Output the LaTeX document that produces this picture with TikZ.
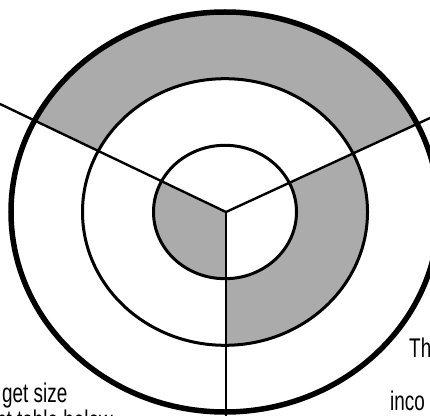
\documentclass[tikz,border=0pt]{standalone}
\usepackage{fontspec}
\setmainfont{Liberation Sans}[FakeStretch=0.7]
\definecolor{ringgray}{RGB}{171,171,171}
\tikzset{
  ring/.style={draw=black, line width=3pt},
  outerring/.style={draw=black, line width=5.5pt},
  spoke/.style={draw=black, line width=2.4pt},
  lbl/.style={inner sep=0pt, anchor=base west, font=\fontsize{27}{31}\selectfont}
}
\begin{document}
\begin{tikzpicture}[x=1pt,y=1pt]
\clip (0,0) rectangle (430,415);
\fill[white] (0,0) rectangle (430,415);
% centre and spoke ends
\coordinate (c) at (226,203);
\coordinate (l) at (-226,419);
\coordinate (r) at (634,391);
\coordinate (b) at (226,-200);
% outer ring, top sector
\begin{scope}
  \clip (c) -- (l) -- (-226,700) -- (634,700) -- (r) -- cycle;
  \fill[ringgray, even odd rule] (225,203) ellipse [x radius=214, y radius=200]
        (225,203) ellipse [x radius=142.5, y radius=133.3];
\end{scope}
% middle ring, bottom-right sector
\begin{scope}
  \clip (c) -- (r) -- (634,-200) -- (b) -- cycle;
  \fill[ringgray, even odd rule] (225,203) ellipse [x radius=142.5, y radius=133.3]
        (225,203) ellipse [x radius=71.5, y radius=66.7];
\end{scope}
% inner disc, bottom-left sector
\begin{scope}
  \clip (c) -- (b) -- (-226,-200) -- (l) -- cycle;
  \fill[ringgray] (225,203) ellipse [x radius=71.5, y radius=66.7];
\end{scope}
% circles
\draw[outerring] (225,203) ellipse [x radius=214, y radius=200];
\draw[ring] (225,203) ellipse [x radius=142.5, y radius=133.3];
\draw[ring] (225,203) ellipse [x radius=71.5, y radius=66.7];
% spokes
\draw[spoke] (c) -- (l);
\draw[spoke] (c) -- (r);
\draw[spoke] (c) -- (b);
% texts
\node[lbl] (t1) at (2,13) {get size};
\node[lbl] (t2) at (-4,-14) {nt table below};
\node[lbl] (t3) at (409,58) {Th};
\node[lbl] (t4) at (390,5) {inco};
\end{tikzpicture}
\end{document}
